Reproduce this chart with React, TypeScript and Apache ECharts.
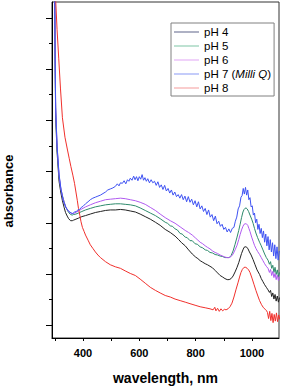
import React, { useEffect, useRef } from "react";
import * as echarts from "echarts";

const seriesNames = ["pH 4", "pH 5", "pH 6", "pH 7 (Milli Q)", "pH 8"];
const seriesColors = ["#222222", "#2e8a6c", "#b05af0", "#3e52f2", "#f0302c"];
const legendColors = ["#5c6288", "#7cc4a4", "#e0a4f4", "#8898f4", "#f49a9a"];

const xTickValues = [300, 400, 500, 600, 700, 800, 900, 1000];
const xLabelValues = [400, 600, 800, 1000];
const yMajorTicks = [0.025, 0.125, 0.225, 0.325, 0.425, 0.525, 0.625];
const yMinorTicks = [0.075, 0.175, 0.275, 0.375, 0.475, 0.575];

const ph4: [number, number][] = [[299,0.70],[301,0.545],[303,0.43],[308,0.363],[315,0.306],[321,0.285],[327,0.268],[333,0.255],[338,0.245],[344,0.238],[349,0.233],[356,0.229],[362,0.229],[366,0.230],[375,0.232],[384,0.234],[396,0.237],[409,0.239],[426,0.242],[444,0.245],[462,0.247],[480,0.249],[497,0.25],[515,0.25],[533,0.251],[550,0.25],[568,0.248],[586,0.246],[603,0.242],[621,0.237],[639,0.232],[657,0.226],[674,0.22],[692,0.212],[710,0.206],[727,0.199],[740,0.192],[750,0.186],[763,0.18],[775,0.172],[788,0.164],[800,0.158],[808,0.155],[816,0.151],[825,0.148],[834,0.145],[842,0.143],[851,0.14],[860,0.137],[869,0.132],[878,0.127],[887,0.122],[896,0.119],[904,0.116],[912,0.114],[919,0.114],[926,0.116],[933,0.121],[940,0.129],[947,0.138],[953,0.147],[958,0.156],[963,0.165],[968,0.172],[972,0.177],[976,0.178],[980,0.178],[986,0.174],[991,0.168],[997,0.162],[1004,0.153],[1011,0.143],[1018,0.133],[1027,0.124],[1033,0.116],[1039,0.11],[1045,0.104],[1051,0.099],[1057,0.094],[1062,0.089],[1066,0.093],[1070,0.081],[1074,0.088],[1078,0.076],[1082,0.085],[1086,0.072],[1090,0.082],[1094,0.07],[1098,0.079]];

const ph5: [number, number][] = [[299,0.70],[301,0.55],[303,0.44],[308,0.37],[315,0.315],[321,0.292],[327,0.278],[333,0.266],[338,0.257],[344,0.25],[349,0.245],[356,0.241],[362,0.240],[366,0.241],[375,0.242],[384,0.244],[396,0.247],[409,0.25],[426,0.253],[444,0.256],[462,0.258],[480,0.26],[497,0.261],[515,0.262],[533,0.262],[550,0.261],[568,0.26],[586,0.258],[603,0.254],[621,0.249],[639,0.244],[657,0.239],[674,0.233],[692,0.226],[700,0.224],[710,0.219],[718,0.218],[727,0.213],[735,0.211],[745,0.204],[752,0.203],[763,0.197],[770,0.196],[780,0.19],[788,0.19],[798,0.184],[806,0.183],[816,0.178],[825,0.176],[834,0.172],[842,0.171],[851,0.167],[860,0.166],[869,0.163],[878,0.162],[887,0.16],[896,0.159],[904,0.157],[912,0.157],[919,0.157],[926,0.161],[933,0.17],[940,0.183],[947,0.197],[953,0.21],[958,0.222],[963,0.235],[968,0.246],[972,0.251],[975,0.253],[979,0.254],[983,0.252],[988,0.247],[993,0.24],[999,0.232],[1004,0.224],[1009,0.214],[1014,0.205],[1020,0.196],[1027,0.187],[1033,0.18],[1039,0.172],[1045,0.164],[1051,0.157],[1057,0.152],[1062,0.144],[1066,0.149],[1070,0.136],[1074,0.142],[1078,0.128],[1082,0.138],[1086,0.124],[1090,0.133],[1094,0.12],[1098,0.128]];

const ph6: [number, number][] = [[299,0.70],[301,0.56],[303,0.45],[308,0.375],[315,0.318],[321,0.293],[327,0.277],[333,0.265],[338,0.257],[344,0.251],[349,0.247],[356,0.244],[363,0.243],[370,0.244],[377,0.246],[384,0.248],[396,0.252],[409,0.256],[426,0.26],[444,0.264],[462,0.267],[480,0.27],[497,0.271],[515,0.272],[533,0.273],[550,0.272],[568,0.27],[586,0.268],[603,0.265],[621,0.261],[639,0.255],[657,0.249],[674,0.242],[692,0.235],[710,0.229],[727,0.224],[745,0.217],[763,0.21],[775,0.206],[788,0.201],[800,0.195],[808,0.191],[816,0.187],[825,0.184],[834,0.18],[842,0.177],[851,0.174],[860,0.17],[869,0.167],[878,0.165],[887,0.162],[896,0.16],[904,0.158],[912,0.157],[919,0.157],[926,0.159],[933,0.164],[940,0.172],[947,0.181],[953,0.192],[958,0.202],[963,0.211],[968,0.218],[972,0.222],[976,0.223],[980,0.223],[985,0.22],[989,0.214],[993,0.208],[999,0.197],[1004,0.189],[1009,0.181],[1014,0.175],[1020,0.169],[1027,0.163],[1033,0.157],[1039,0.151],[1045,0.145],[1051,0.14],[1057,0.136],[1062,0.128],[1066,0.134],[1070,0.122],[1074,0.13],[1078,0.118],[1082,0.126],[1086,0.114],[1090,0.123],[1094,0.112],[1098,0.12]];

const ph7: [number, number][] = [[299,0.70],[301,0.56],[303,0.45],[308,0.375],[315,0.32],[322,0.29],[330,0.268],[340,0.254],[350,0.247],[358,0.244],[364,0.243],[370,0.246],[376,0.247],[382,0.25],[388,0.251],[394,0.255],[400,0.257],[409,0.262],[418,0.266],[426,0.27],[435,0.273],[444,0.275],[453,0.277],[462,0.279],[471,0.282],[480,0.285],[488,0.289],[497,0.291],[506,0.293],[515,0.296],[522,0.301],[528,0.297],[533,0.303],[540,0.302],[546,0.307],[552,0.301],[558,0.309],[563,0.306],[568,0.312],[574,0.308],[580,0.316],[585,0.309],[590,0.315],[595,0.307],[600,0.315],[605,0.31],[610,0.319],[615,0.308],[620,0.313],[625,0.306],[630,0.311],[636,0.303],[642,0.309],[648,0.303],[654,0.306],[660,0.298],[666,0.305],[672,0.294],[678,0.299],[684,0.29],[690,0.298],[696,0.287],[702,0.292],[708,0.283],[714,0.289],[720,0.279],[726,0.285],[732,0.276],[738,0.28],[744,0.273],[750,0.28],[756,0.27],[762,0.277],[768,0.266],[774,0.276],[780,0.265],[786,0.271],[792,0.26],[798,0.268],[804,0.256],[810,0.266],[816,0.252],[822,0.258],[828,0.247],[834,0.253],[840,0.241],[846,0.25],[852,0.236],[858,0.241],[864,0.229],[870,0.238],[876,0.223],[882,0.228],[888,0.218],[894,0.222],[900,0.212],[906,0.216],[912,0.207],[918,0.213],[924,0.206],[930,0.214],[936,0.216],[941,0.228],[946,0.236],[951,0.252],[956,0.258],[961,0.275],[965,0.278],[969,0.292],[973,0.281],[977,0.294],[981,0.279],[985,0.289],[989,0.27],[993,0.274],[997,0.256],[1001,0.258],[1005,0.24],[1009,0.244],[1013,0.225],[1017,0.232],[1021,0.212],[1025,0.222],[1029,0.204],[1033,0.214],[1037,0.196],[1041,0.209],[1045,0.187],[1049,0.203],[1053,0.18],[1057,0.198],[1061,0.172],[1065,0.192],[1069,0.168],[1073,0.186],[1077,0.16],[1081,0.182],[1085,0.155],[1089,0.178],[1093,0.152],[1097,0.17]];

const ph8: [number, number][] = [[299,0.73],[303,0.66],[308,0.602],[314,0.545],[320,0.488],[327,0.43],[336,0.392],[345,0.367],[351,0.351],[357,0.335],[364,0.318],[370,0.302],[375,0.285],[380,0.268],[384,0.253],[389,0.239],[393,0.227],[398,0.216],[404,0.208],[409,0.201],[418,0.191],[426,0.182],[435,0.175],[444,0.168],[453,0.162],[462,0.157],[480,0.149],[497,0.143],[515,0.139],[533,0.136],[550,0.131],[568,0.126],[586,0.122],[603,0.115],[621,0.107],[639,0.099],[657,0.093],[674,0.088],[692,0.083],[710,0.08],[727,0.076],[745,0.073],[763,0.07],[780,0.067],[798,0.064],[816,0.061],[834,0.059],[851,0.057],[862,0.055],[868,0.06],[872,0.053],[878,0.058],[884,0.052],[890,0.057],[896,0.053],[902,0.056],[908,0.055],[915,0.057],[922,0.061],[929,0.068],[936,0.08],[943,0.094],[951,0.109],[956,0.119],[961,0.128],[966,0.134],[972,0.138],[978,0.138],[983,0.136],[988,0.133],[993,0.128],[1000,0.117],[1007,0.105],[1014,0.093],[1021,0.082],[1027,0.073],[1034,0.065],[1041,0.059],[1047,0.056],[1051,0.054],[1055,0.05],[1059,0.038],[1063,0.052],[1067,0.034],[1071,0.048],[1075,0.03],[1079,0.046],[1083,0.033],[1087,0.049],[1091,0.032],[1095,0.045],[1099,0.036]];

const seriesData = [ph4, ph5, ph6, ph7, ph8];

const FONT = "'Liberation Sans', Arial, Helvetica, sans-serif";

export default function App() {
  const ref = useRef<HTMLDivElement>(null);
  useEffect(() => {
    document.body.style.margin = "0";
    if (!ref.current) return;
    const chart = echarts.init(ref.current, undefined, { renderer: "svg" });
    chart.setOption({
      animation: false,
      backgroundColor: "#ffffff",
      grid: {
        left: 52,
        top: 2,
        width: 227,
        height: 343,
        show: true,
        borderColor: "#333",
        borderWidth: 1,
        backgroundColor: "transparent",
      },
      legend: {
        orient: "vertical",
        left: 171,
        top: 23,
        icon: "rect",
        itemWidth: 25,
        itemHeight: 1,
        itemGap: 0,
        padding: [2, 3, 1, 3],
        borderColor: "#808080",
        borderWidth: 1,
        backgroundColor: "#fff",
        data: seriesNames.map((n, i) => ({ name: n, itemStyle: { color: legendColors[i] } })),
        formatter: (name: string) =>
          name === "pH 7 (Milli Q)" ? "pH 7 ({i|Milli Q})" : name,
        textStyle: {
          fontFamily: FONT,
          fontSize: 11.5,
          color: "#000",
          lineHeight: 14,
          rich: {
            i: { fontStyle: "italic", fontFamily: FONT, fontSize: 11.5, color: "#000", lineHeight: 14 },
          },
        },
      },
      xAxis: {
        type: "value",
        min: 290,
        max: 1096,
        axisLine: { show: true, onZero: false, lineStyle: { color: "#000", width: 1 } },
        axisTick: { show: true, length: 3, customValues: xTickValues, lineStyle: { color: "#000" } },
        axisLabel: {
          customValues: xLabelValues,
          formatter: (v: number) => String(v),
          fontFamily: FONT,
          fontWeight: "bold",
          fontSize: 11,
          color: "#000",
          margin: 9,
        },
        splitLine: { show: false },
        name: "wavelength, nm",
        nameLocation: "middle",
        nameGap: 33,
        nameTextStyle: { fontFamily: FONT, fontWeight: "bold", fontSize: 14, color: "#000" },
      },
      yAxis: [
        {
          type: "value",
          min: 0,
          max: 0.656,
          position: "left",
          axisLine: { show: true, onZero: false, lineStyle: { color: "#000", width: 1 } },
          axisTick: { show: true, length: 6, customValues: yMajorTicks, lineStyle: { color: "#000" } },
          axisLabel: { show: false, customValues: yMajorTicks },
          splitLine: { show: false },
        },
        {
          type: "value",
          min: 0,
          max: 0.656,
          position: "left",
          axisLine: { show: false, onZero: false },
          axisTick: { show: true, length: 3, customValues: yMinorTicks, lineStyle: { color: "#000" } },
          axisLabel: { show: false, customValues: yMinorTicks },
          splitLine: { show: false },
        },
      ],
      graphic: [
        {
          type: "text",
          x: 8,
          y: 191,
          rotation: Math.PI / 2,
          style: {
            text: "absorbance",
            fontFamily: FONT,
            fontWeight: "bold",
            fontSize: 13,
            fill: "#000",
            align: "center",
            verticalAlign: "middle",
          },
        },
      ],
      series: seriesNames.map((n, i) => ({
        name: n,
        type: "line",
        yAxisIndex: 0,
        data: seriesData[i],
        symbol: "none",
        clip: true,
        lineStyle: { color: seriesColors[i], width: 1 },
        itemStyle: { color: seriesColors[i] },
        z: i === 3 ? 3 : 2,
      })),
    });
    return () => chart.dispose();
  }, []);
  return (
    <div
      ref={ref}
      style={{ position: "fixed", left: 0, top: 0, width: 283, height: 390 }}
    />
  );
}
